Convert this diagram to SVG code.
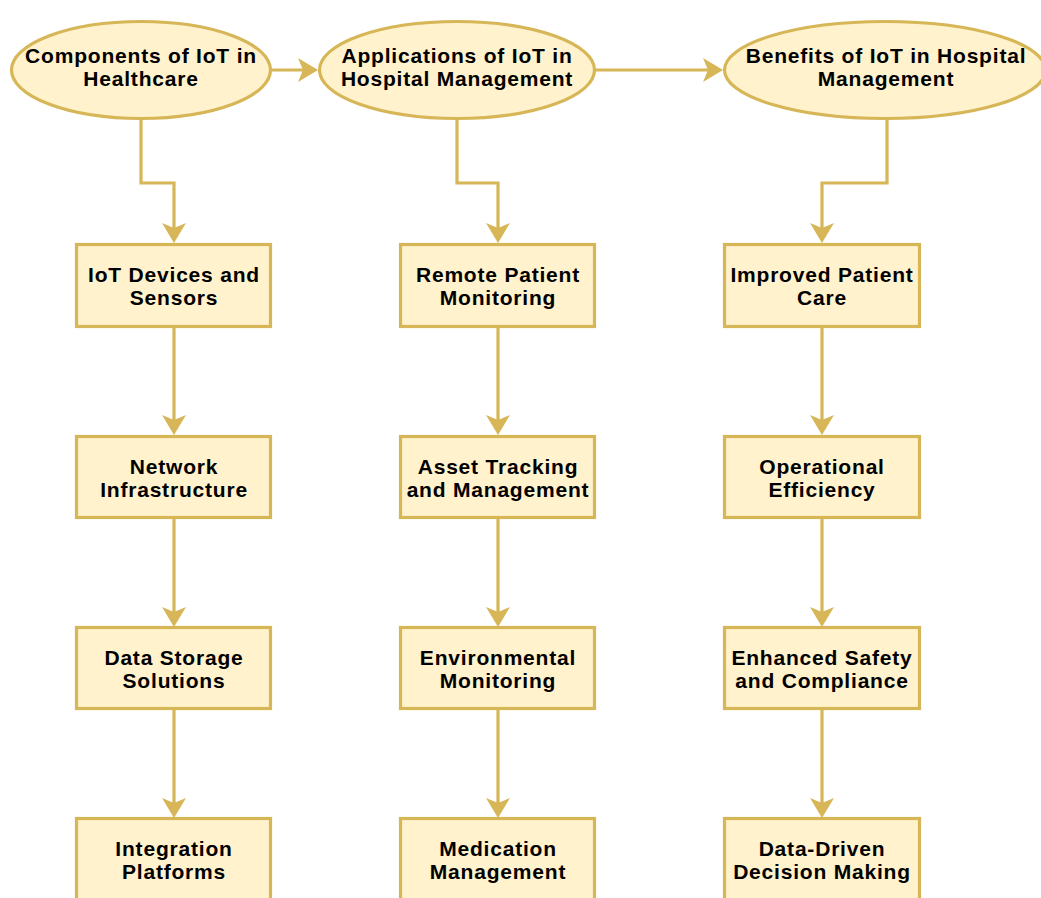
<svg xmlns="http://www.w3.org/2000/svg" width="1041" height="898" viewBox="0 0 1041 898">
<style>
.n{fill:#FFF2CC;stroke:#D6B656;stroke-width:3.2}
.t{font-family:"Liberation Sans",Arial,sans-serif;font-weight:bold;font-size:21px;letter-spacing:0.8px;fill:#000;text-anchor:middle}
.c{fill:none;stroke:#D6B656;stroke-width:3.2;marker-end:url(#ah)}
</style>
<defs>
<marker id="ah" markerUnits="userSpaceOnUse" markerWidth="24" markerHeight="24" refX="17" refY="12" orient="auto">
<path d="M0,0 L20,12 L0,24 L5,12 Z" fill="#D6B656"/>
</marker>
</defs>
<rect width="1041" height="898" fill="#fff"/>
<g id="connectors">
<path class="c" d="M272,70 L315,70"/>
<path class="c" d="M596,70 L720,70"/>
<path class="c" d="M141,120 L141,183 L174,183 L174,240"/>
<path class="c" d="M457,120 L457,183 L498,183 L498,240"/>
<path class="c" d="M887,120 L887,183 L822,183 L822,240"/>
<path class="c" d="M174,328 L174,432"/>
<path class="c" d="M174,519 L174,624"/>
<path class="c" d="M174,710 L174,815"/>
<path class="c" d="M498,328 L498,432"/>
<path class="c" d="M498,519 L498,624"/>
<path class="c" d="M498,710 L498,815"/>
<path class="c" d="M822,328 L822,432"/>
<path class="c" d="M822,519 L822,624"/>
<path class="c" d="M822,710 L822,815"/>
</g>
<g id="e1"><ellipse class="n" cx="141" cy="70" rx="129.5" ry="48.5"/><text class="t" x="141" y="63">Components of IoT in</text><text class="t" x="141" y="86">Healthcare</text></g>
<g id="e2"><ellipse class="n" cx="457" cy="70" rx="137.5" ry="48.5"/><text class="t" x="457" y="63">Applications of IoT in</text><text class="t" x="457" y="86">Hospital Management</text></g>
<g id="e3"><ellipse class="n" cx="885" cy="70" rx="160.5" ry="48.5"/><text class="t" x="886" y="63">Benefits of IoT in Hospital</text><text class="t" x="886" y="86">Management</text></g>

<g id="b11"><rect class="n" x="76.5" y="244.5" width="194" height="82"/><text class="t" x="174" y="282">IoT Devices and</text><text class="t" x="174" y="305">Sensors</text></g>
<g id="b12"><rect class="n" x="76.5" y="436.5" width="194" height="81"/><text class="t" x="174" y="474">Network</text><text class="t" x="174" y="497">Infrastructure</text></g>
<g id="b13"><rect class="n" x="76.5" y="627.5" width="194" height="81"/><text class="t" x="174" y="665">Data Storage</text><text class="t" x="174" y="688">Solutions</text></g>
<g id="b14"><rect class="n" x="76.5" y="818.5" width="194" height="84"/><text class="t" x="174" y="856">Integration</text><text class="t" x="174" y="879">Platforms</text></g>

<g id="b21"><rect class="n" x="400.5" y="244.5" width="194" height="82"/><text class="t" x="498" y="282">Remote Patient</text><text class="t" x="498" y="305">Monitoring</text></g>
<g id="b22"><rect class="n" x="400.5" y="436.5" width="194" height="81"/><text class="t" x="498" y="474">Asset Tracking</text><text class="t" x="498" y="497">and Management</text></g>
<g id="b23"><rect class="n" x="400.5" y="627.5" width="194" height="81"/><text class="t" x="498" y="665">Environmental</text><text class="t" x="498" y="688">Monitoring</text></g>
<g id="b24"><rect class="n" x="400.5" y="818.5" width="194" height="84"/><text class="t" x="498" y="856">Medication</text><text class="t" x="498" y="879">Management</text></g>

<g id="b31"><rect class="n" x="724.5" y="244.5" width="195" height="82"/><text class="t" x="822" y="282">Improved Patient</text><text class="t" x="822" y="305">Care</text></g>
<g id="b32"><rect class="n" x="724.5" y="436.5" width="195" height="81"/><text class="t" x="822" y="474">Operational</text><text class="t" x="822" y="497">Efficiency</text></g>
<g id="b33"><rect class="n" x="724.5" y="627.5" width="195" height="81"/><text class="t" x="822" y="665">Enhanced Safety</text><text class="t" x="822" y="688">and Compliance</text></g>
<g id="b34"><rect class="n" x="724.5" y="818.5" width="195" height="84"/><text class="t" x="822" y="856">Data-Driven</text><text class="t" x="822" y="879">Decision Making</text></g>
</svg>
